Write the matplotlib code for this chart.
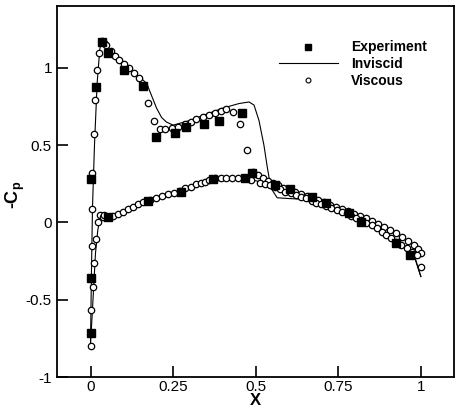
import matplotlib
matplotlib.use("Agg")
import matplotlib.pyplot as plt
from matplotlib.lines import Line2D

plt.rcParams['font.family'] = ['Liberation Sans', 'DejaVu Sans']
plt.rcParams['mathtext.fontset'] = 'custom'
plt.rcParams['mathtext.rm'] = 'Liberation Sans:bold'
plt.rcParams['mathtext.it'] = 'Liberation Sans:bold'
plt.rcParams['mathtext.bf'] = 'Liberation Sans:bold'

# Experimental pressure coefficient (-Cp)
exp_x = [0.0, 0.018, 0.034, 0.052, 0.100, 0.158, 0.199, 0.255, 0.290, 0.345, 0.388, 0.460,
         0.0, 0.0, 0.052, 0.174, 0.275, 0.370, 0.467, 0.490, 0.557, 0.605, 0.669, 0.712,
         0.783, 0.820, 0.926, 0.967]
exp_y = [0.28, 0.88, 1.166, 1.095, 0.987, 0.883, 0.555, 0.577, 0.620, 0.640, 0.659, 0.711,
         -0.36, -0.715, 0.037, 0.141, 0.195, 0.283, 0.286, 0.318, 0.243, 0.218, 0.167, 0.128,
         0.063, 0.005, -0.131, -0.210]

# Inviscid solution, upper and lower surface
inv_up_x = [0.0, 0.003, 0.006, 0.012, 0.020, 0.028, 0.033, 0.045, 0.070, 0.100, 0.130, 0.160,
            0.170, 0.185, 0.200, 0.215, 0.230, 0.250, 0.300, 0.350, 0.400, 0.450, 0.480,
            0.495, 0.510, 0.525, 0.535, 0.543, 0.550, 0.565, 0.600, 0.650, 0.700, 0.750,
            0.800, 0.850, 0.900, 0.950, 0.980, 1.000]
inv_up_y = [-0.78, -0.30, 0.10, 0.50, 0.90, 1.12, 1.18, 1.15, 1.09, 1.03, 0.97, 0.92,
            0.90, 0.82, 0.74, 0.68, 0.65, 0.63, 0.66, 0.70, 0.74, 0.77, 0.78,
            0.76, 0.66, 0.50, 0.36, 0.26, 0.21, 0.16, 0.155, 0.15, 0.115, 0.075,
            0.030, -0.020, -0.080, -0.150, -0.220, -0.350]
inv_lo_x = [0.0, 0.005, 0.010, 0.015, 0.022, 0.030, 0.045, 0.060, 0.100, 0.150, 0.200, 0.250,
            0.300, 0.350, 0.400, 0.450, 0.500, 0.550, 0.600, 0.650, 0.700, 0.750, 0.800,
            0.850, 0.900, 0.950, 0.980, 1.000]
inv_lo_y = [-0.78, -0.60, -0.40, -0.20, -0.05, 0.04, 0.05, 0.045, 0.07, 0.12, 0.16, 0.19,
            0.225, 0.255, 0.275, 0.28, 0.27, 0.245, 0.21, 0.17, 0.125, 0.08, 0.03,
            -0.02, -0.08, -0.15, -0.21, -0.35]

# Viscous solution, upper surface (leading edge to trailing edge)
vis_up_x = [0.0, 0.001, 0.002, 0.005, 0.005, 0.005, 0.012, 0.015, 0.020, 0.027, 0.035, 0.042,
            0.048, 0.061, 0.073, 0.085, 0.100, 0.118, 0.133, 0.148, 0.162, 0.174, 0.192,
            0.209, 0.227, 0.246, 0.266, 0.285, 0.303, 0.320, 0.340, 0.360, 0.378, 0.394,
            0.411, 0.431, 0.452, 0.475, 0.492, 0.507, 0.522, 0.537, 0.552, 0.567, 0.582,
            0.600, 0.618, 0.636, 0.654, 0.672, 0.690, 0.708, 0.726, 0.744, 0.762, 0.780,
            0.798, 0.816, 0.834, 0.852, 0.870, 0.888, 0.906, 0.924, 0.942, 0.960, 0.978,
            0.990, 1.000]
vis_up_y = [-0.80, -0.713, -0.566, -0.152, 0.085, 0.318, 0.575, 0.790, 0.987, 1.100, 1.175, 1.160,
            1.149, 1.112, 1.078, 1.052, 1.024, 0.998, 0.966, 0.933, 0.884, 0.771, 0.659,
            0.603, 0.603, 0.610, 0.620, 0.635, 0.652, 0.668, 0.685, 0.696, 0.711, 0.724,
            0.733, 0.717, 0.635, 0.469, 0.329, 0.305, 0.285, 0.270, 0.256, 0.240, 0.226,
            0.212, 0.200, 0.186, 0.172, 0.158, 0.144, 0.130, 0.116, 0.102, 0.088, 0.074,
            0.058, 0.043, 0.027, 0.010, -0.008, -0.028, -0.048, -0.070, -0.093, -0.118, -0.145,
            -0.170, -0.200]

# Viscous solution, lower surface
vis_lo_x = [0.009, 0.012, 0.017, 0.022, 0.029, 0.037, 0.042, 0.055, 0.068, 0.083, 0.098,
            0.113, 0.128, 0.143, 0.158, 0.179, 0.199, 0.216, 0.234, 0.252, 0.270, 0.285,
            0.303, 0.318, 0.333, 0.348, 0.358, 0.376, 0.394, 0.411, 0.428, 0.446, 0.467,
            0.485, 0.512, 0.527, 0.542, 0.558, 0.573, 0.588, 0.608, 0.623, 0.638, 0.653,
            0.669, 0.684, 0.699, 0.714, 0.729, 0.745, 0.760, 0.775, 0.790, 0.805, 0.820,
            0.835, 0.851, 0.866, 0.881, 0.896, 0.911, 0.926, 0.941, 0.957, 0.972, 0.987,
            0.999]
vis_lo_y = [-0.415, -0.260, -0.110, 0.000, 0.050, 0.034, 0.049, 0.034, 0.042, 0.055, 0.070,
            0.085, 0.102, 0.118, 0.131, 0.146, 0.157, 0.172, 0.184, 0.193, 0.204, 0.221,
            0.232, 0.247, 0.258, 0.264, 0.275, 0.286, 0.286, 0.286, 0.286, 0.286, 0.286,
            0.275, 0.258, 0.249, 0.243, 0.232, 0.215, 0.200, 0.189, 0.178, 0.167, 0.157,
            0.141, 0.128, 0.120, 0.107, 0.092, 0.081, 0.070, 0.060, 0.044, 0.031, 0.016,
            -0.001, -0.016, -0.038, -0.060, -0.081, -0.102, -0.124, -0.146, -0.167, -0.189, -0.210,
            -0.290]

x_ticks = [0, 0.25, 0.5, 0.75, 1]
x_tick_labels = ['0', '0.25', '0.5', '0.75', '1']
y_ticks = [-1, -0.5, 0, 0.5, 1]
y_tick_labels = ['-1', '-0.5', '0', '0.5', '1']

fig = plt.figure(figsize=(4.58, 4.11), dpi=100)
ax = fig.add_axes([0.1255, 0.0827, 0.8655, 0.9023])

ax.plot(inv_up_x, inv_up_y, color='black', lw=0.8, zorder=2)
ax.plot(inv_lo_x, inv_lo_y, color='black', lw=0.8, zorder=2)
circ = dict(ls='none', marker='o', ms=4.6, mfc='white', mec='black', mew=0.9, zorder=3)
ax.plot(vis_up_x, vis_up_y, **circ)
ax.plot(vis_lo_x, vis_lo_y, **circ)
ax.plot(exp_x, exp_y, ls='none', marker='s', ms=5.8, mfc='black', mec='black', zorder=4)

ax.set_xlim(-0.1, 1.1)
ax.set_ylim(-1, 1.4)
ax.set_xticks(x_ticks)
ax.set_xticklabels(x_tick_labels)
ax.set_yticks(y_ticks)
ax.set_yticklabels(y_tick_labels)
ax.tick_params(axis='y', direction='in', length=8, width=1.2, labelsize=11, pad=4)
ax.tick_params(axis='x', direction='in', length=8, width=1.2, labelsize=11, pad=2)
for s in ax.spines.values():
    s.set_linewidth(1.3)

ax.set_xlabel('X', fontsize=12, fontweight='bold')
ax.xaxis.set_label_coords(0.5, -0.062)
ax.xaxis.label.set_va('center')
ax.set_ylabel(r'-C$_{\rm p}$', fontsize=13, fontweight='bold')
ax.yaxis.set_label_coords(-0.107, 0.49)
ax.yaxis.label.set_va('center')

handles = [
    Line2D([], [], ls='none', marker='s', ms=4, mfc='black', mec='black'),
    Line2D([], [], color='black', lw=0.8),
    Line2D([], [], ls='none', marker='o', ms=3.5, mfc='white', mec='black', mew=0.8),
]
leg = ax.legend(handles, ['Experiment', 'Inviscid', 'Viscous'], loc='upper right',
                bbox_to_anchor=(0.957, 0.934), frameon=False, handlelength=4.3,
                handletextpad=0.93, labelspacing=0.2, borderaxespad=0.3,
                prop={'weight': 'bold', 'size': 10})

fig.savefig('out.png', dpi=100)
